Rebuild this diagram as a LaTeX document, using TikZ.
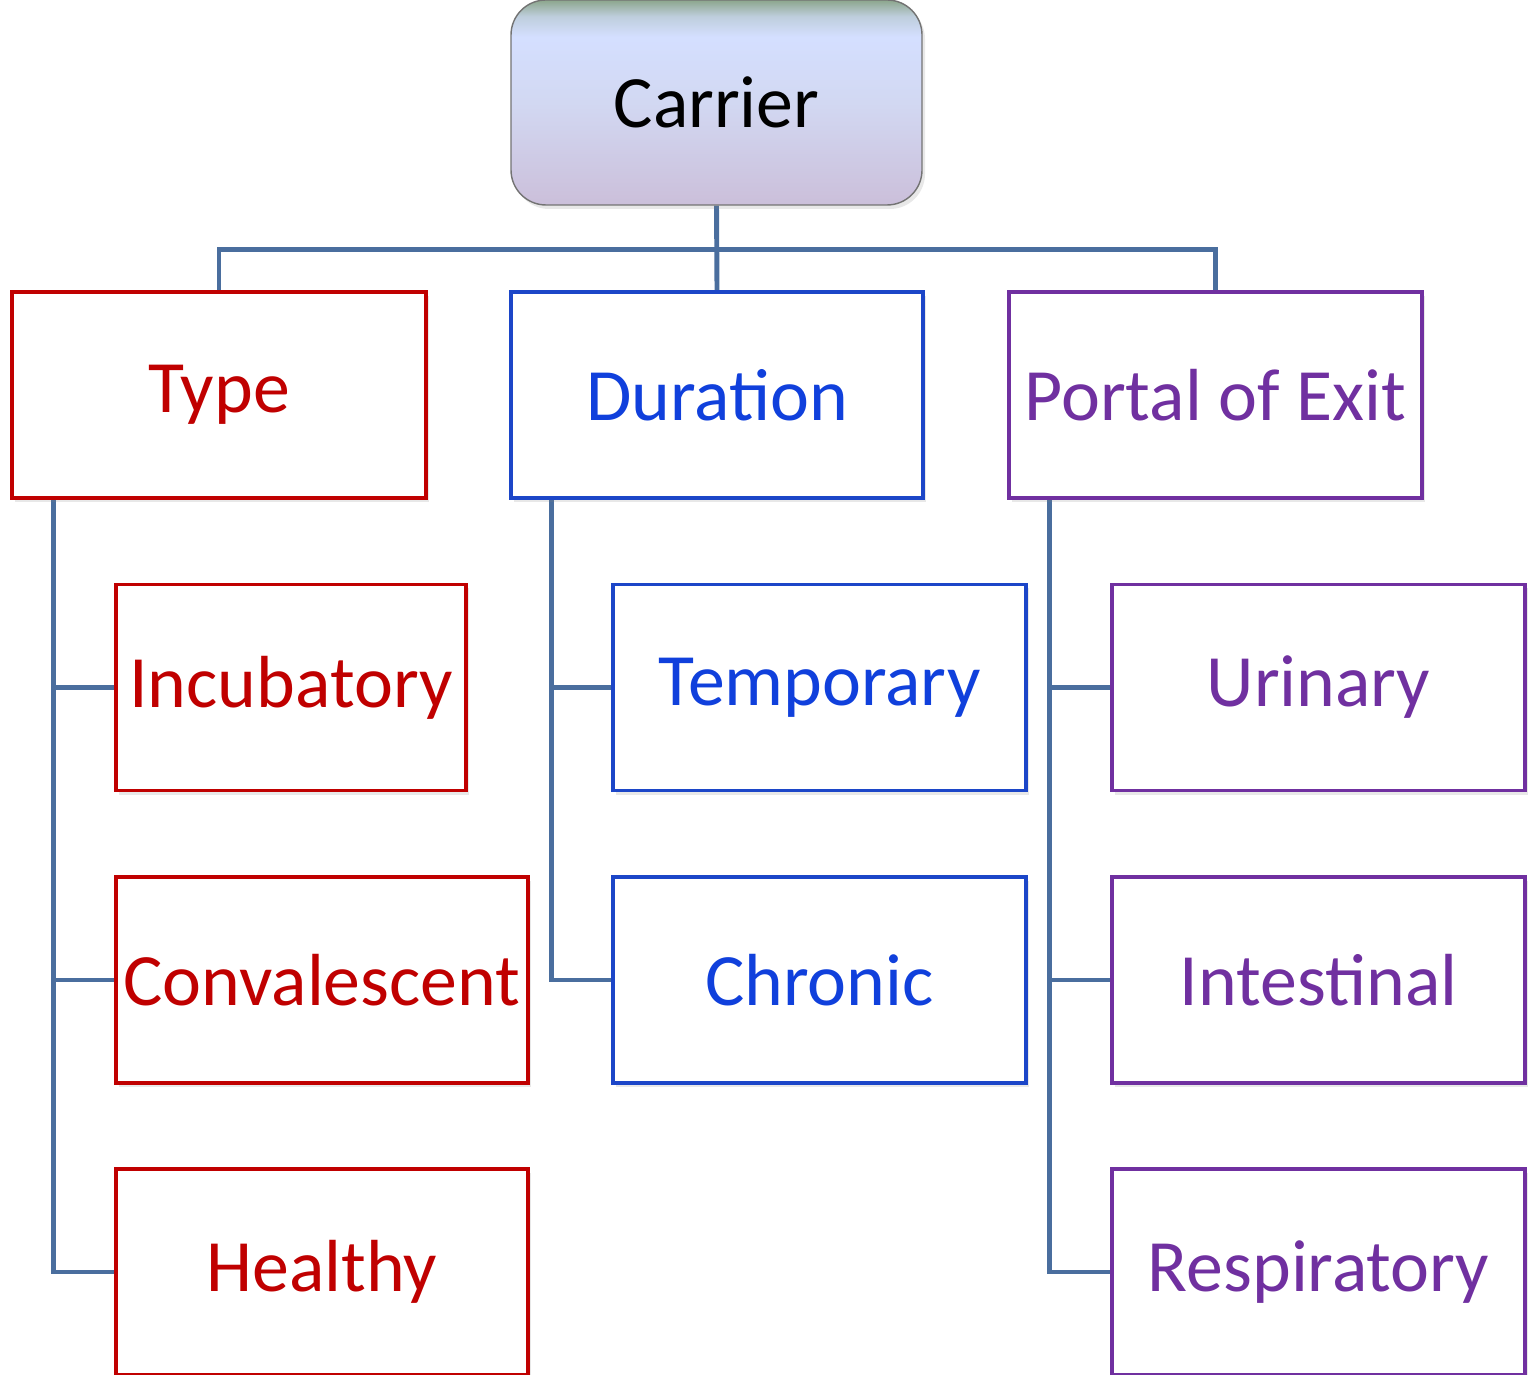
\documentclass[tikz,border=0pt]{standalone}
\usepackage{fontspec}
\setmainfont{Carlito}
\usetikzlibrary{positioning, calc, shadows, backgrounds}
\definecolor{typecol}{HTML}{C00000}
\definecolor{durcol}{HTML}{1040DC}
\definecolor{durline}{HTML}{1C46C8}
\definecolor{portcol}{HTML}{7030A0}
\definecolor{link}{HTML}{4A6E9E}
\definecolor{topgreen}{HTML}{8CA68C}
\definecolor{topblue}{HTML}{D4DFFF}
\definecolor{midblue}{HTML}{D2D8F2}
\definecolor{botlav}{HTML}{CBBFDA}
\pgfdeclareverticalshading{carriershade}{100bp}{
    color(0bp)=(botlav); color(25bp)=(botlav); color(50bp)=(midblue);
    color(66bp)=(topblue); color(71bp)=(topblue!70!topgreen); color(75bp)=(topgreen); color(100bp)=(topgreen)}

\begin{document}
\begin{tikzpicture}[
    font=\fontsize{21}{25}\selectfont,
    box/.style={
        draw,
        fill=white,
        line width=0.9pt,
        minimum height=2.06cm,
        inner sep=0pt,
        drop shadow={shadow xshift=0.03cm, shadow yshift=-0.04cm, opacity=0.18}
    },
    root/.style={
        draw=black!55,
        rounded corners=0.35cm,
        shading=carriershade,
        minimum width=4.11cm,
        minimum height=2.05cm,
        drop shadow={shadow xshift=0.03cm, shadow yshift=-0.04cm, opacity=0.18}
    },
    typebox/.style={box, draw=typecol, text=typecol},
    durbox/.style={box, draw=durline, text=durcol},
    portbox/.style={box, draw=portcol, text=portcol},
    link/.style={draw=link, line width=1.4pt}
]
\useasboundingbox (0,0) rectangle (15.28,-13.75);

\node[root] (C) at (7.165,-1.025) {Carrier};

\node[typebox, minimum width=4.14cm] (T) at (2.19,-3.95) {Type};
\node[durbox, minimum width=4.12cm] (D) at (7.17,-3.95) {Duration};
\node[portbox, minimum width=4.13cm] (P) at (12.155,-3.95) {Portal of Exit};

\node[typebox, minimum width=3.50cm] (T1) at (2.91,-6.875) {Incubatory};
\node[typebox, minimum width=4.12cm] (T2) at (3.22,-9.80) {Convalescent};
\node[typebox, minimum width=4.12cm] (T3) at (3.22,-12.72) {Healthy};

\node[durbox, minimum width=4.13cm] (D1) at (8.195,-6.875) {Temporary};
\node[durbox, minimum width=4.13cm] (D2) at (8.195,-9.80) {Chronic};

\node[portbox, minimum width=4.13cm] (P1) at (13.185,-6.875) {Urinary};
\node[portbox, minimum width=4.13cm] (P2) at (13.185,-9.80) {Intestinal};
\node[portbox, minimum width=4.13cm] (P3) at (13.185,-12.72) {Respiratory};

\coordinate (bus) at ($(C.south)+(0,-0.44)$);
\coordinate (Tt) at ($(T.south west)+(0.43,0)$);
\coordinate (Dt) at ($(D.south west)+(0.42,0)$);
\coordinate (Pt) at ($(P.south west)+(0.42,0)$);

\begin{scope}[on background layer]
\draw[link] (C.south) -- (D.north);
\draw[link] (T.north) |- (bus) -| (P.north);

\draw[link] (Tt) |- (T3.west);
\draw[link] (Tt) |- (T1.west);
\draw[link] (Tt) |- (T2.west);

\draw[link] (Dt) |- (D2.west);
\draw[link] (Dt) |- (D1.west);

\draw[link] (Pt) |- (P3.west);
\draw[link] (Pt) |- (P1.west);
\draw[link] (Pt) |- (P2.west);
\end{scope}

\end{tikzpicture}
\end{document}
